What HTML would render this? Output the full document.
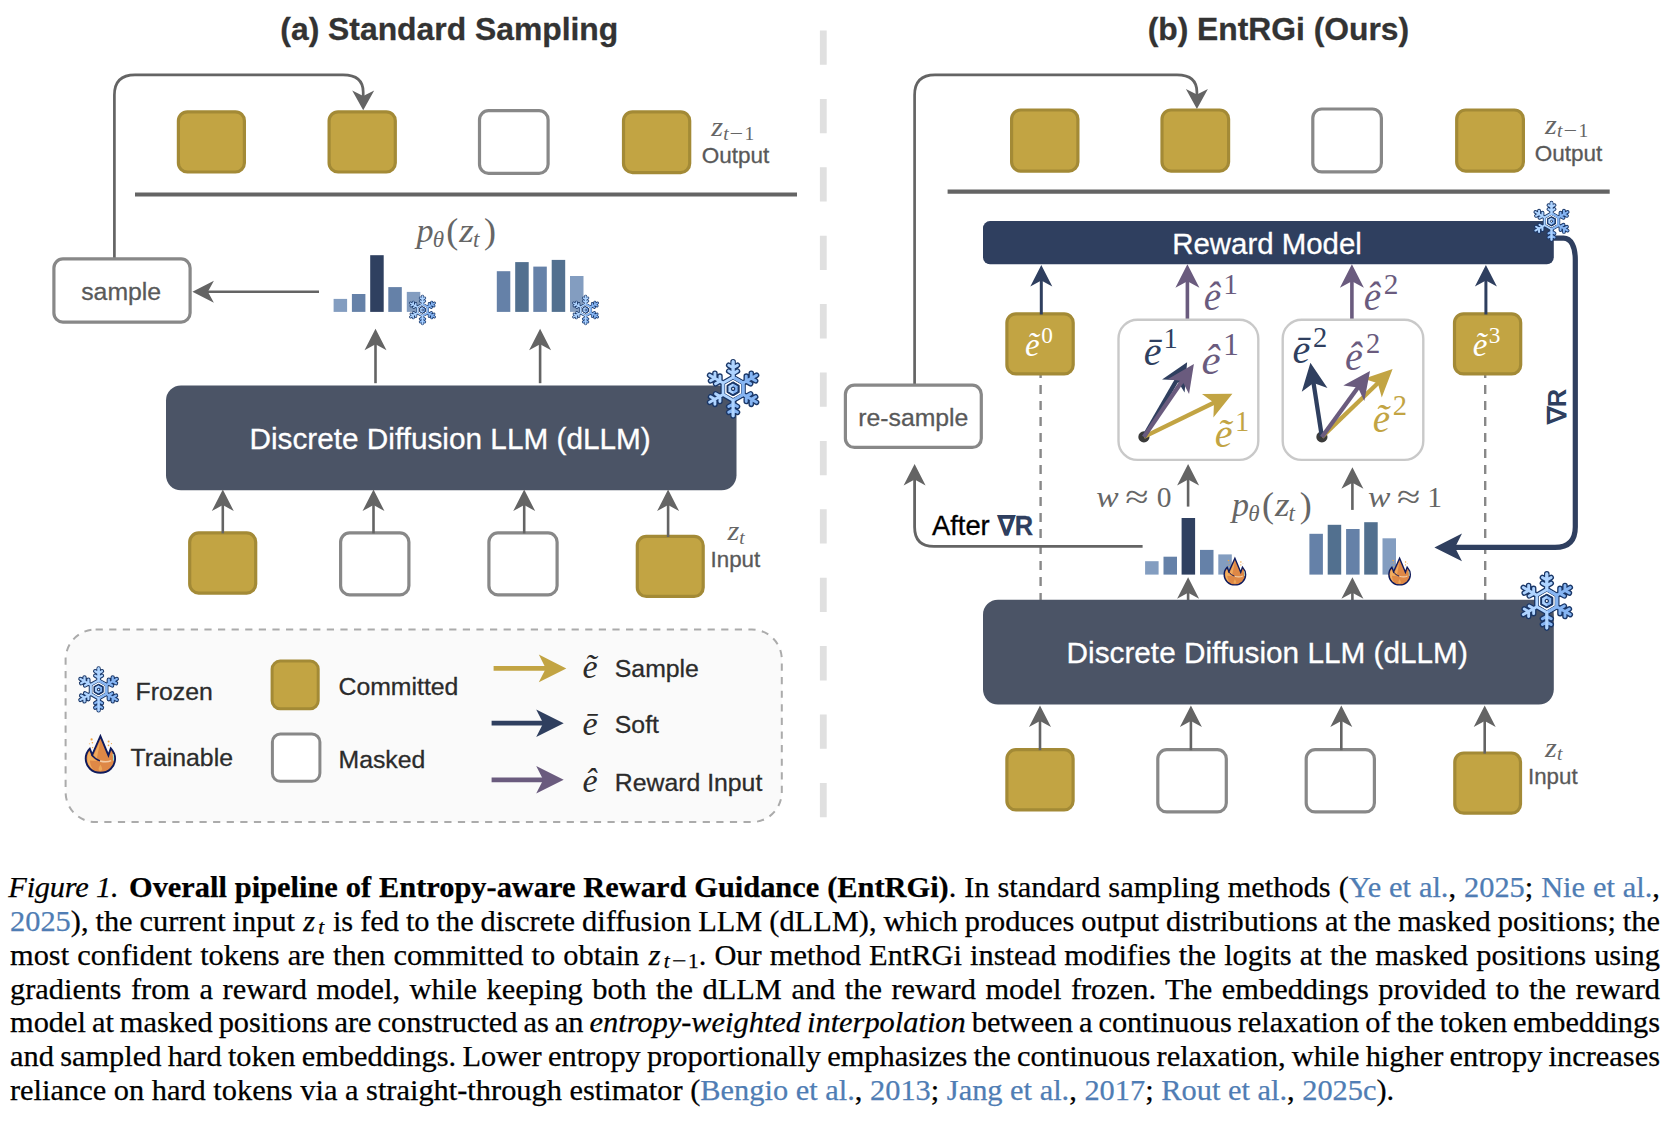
<!DOCTYPE html>
<html lang="en">
<head>
<meta charset="utf-8">
<title>Figure 1. Overall pipeline of Entropy-aware Reward Guidance (EntRGi)</title>
<style>
html,body{margin:0;padding:0;background:#ffffff;}
body{width:1670px;height:1122px;position:relative;overflow:hidden;}
svg{position:absolute;left:0;top:0;}
.cl{position:absolute;left:10px;white-space:nowrap;font-family:"Liberation Serif",serif;font-size:30.4px;line-height:30.4px;height:30.4px;color:#000;-webkit-text-stroke-width:0.25px;}
.cl .l{color:#4F7DB4;}
.cl .mz{font-style:italic;letter-spacing:3.2px;margin-left:1.2px;}
.cl .mt{font-style:italic;font-size:0.7em;position:relative;top:0.15em;letter-spacing:1.8px;}
.cl .mm{font-size:0.7em;position:relative;top:0.15em;display:inline-block;width:16.6px;text-align:center;transform:scaleX(1.2);}
.cl .mo{font-size:0.7em;position:relative;top:0.15em;}
</style>
</head>
<body>
<svg width="1670" height="850" viewBox="0 0 1670 850">
<defs><g id="snow" stroke-linecap="round" stroke-linejoin="round" fill="none"><path transform="rotate(0)" d="M0 -13 L0 -27.2 M0 -15.2 L-4.4 -17.8 M0 -15.2 L4.4 -17.8 M0 -21 L-4.4 -23.6 M0 -21 L4.4 -23.6" stroke="#1A3768" stroke-width="5.6"/><path transform="rotate(60)" d="M0 -13 L0 -27.2 M0 -15.2 L-4.4 -17.8 M0 -15.2 L4.4 -17.8 M0 -21 L-4.4 -23.6 M0 -21 L4.4 -23.6" stroke="#1A3768" stroke-width="5.6"/><path transform="rotate(120)" d="M0 -13 L0 -27.2 M0 -15.2 L-4.4 -17.8 M0 -15.2 L4.4 -17.8 M0 -21 L-4.4 -23.6 M0 -21 L4.4 -23.6" stroke="#1A3768" stroke-width="5.6"/><path transform="rotate(180)" d="M0 -13 L0 -27.2 M0 -15.2 L-4.4 -17.8 M0 -15.2 L4.4 -17.8 M0 -21 L-4.4 -23.6 M0 -21 L4.4 -23.6" stroke="#1A3768" stroke-width="5.6"/><path transform="rotate(240)" d="M0 -13 L0 -27.2 M0 -15.2 L-4.4 -17.8 M0 -15.2 L4.4 -17.8 M0 -21 L-4.4 -23.6 M0 -21 L4.4 -23.6" stroke="#1A3768" stroke-width="5.6"/><path transform="rotate(300)" d="M0 -13 L0 -27.2 M0 -15.2 L-4.4 -17.8 M0 -15.2 L4.4 -17.8 M0 -21 L-4.4 -23.6 M0 -21 L4.4 -23.6" stroke="#1A3768" stroke-width="5.6"/><path d="M0.00 -11.60 L10.05 -5.80 L10.05 5.80 L0.00 11.60 L-10.05 5.80 L-10.05 -5.80 Z" stroke="#1A3768" stroke-width="5.4"/><path d="M0.00 -9.20 L7.97 -4.60 L7.97 4.60 L0.00 9.20 L-7.97 4.60 L-7.97 -4.60 Z" fill="#ffffff" stroke="none"/><path transform="rotate(0)" d="M0 -13 L0 -27.2 M0 -15.2 L-4.4 -17.8 M0 -15.2 L4.4 -17.8 M0 -21 L-4.4 -23.6 M0 -21 L4.4 -23.6" stroke="#AFD4FF" stroke-width="2.9"/><path transform="rotate(60)" d="M0 -13 L0 -27.2 M0 -15.2 L-4.4 -17.8 M0 -15.2 L4.4 -17.8 M0 -21 L-4.4 -23.6 M0 -21 L4.4 -23.6" stroke="#86B5F3" stroke-width="2.9"/><path transform="rotate(120)" d="M0 -13 L0 -27.2 M0 -15.2 L-4.4 -17.8 M0 -15.2 L4.4 -17.8 M0 -21 L-4.4 -23.6 M0 -21 L4.4 -23.6" stroke="#86B5F3" stroke-width="2.9"/><path transform="rotate(180)" d="M0 -13 L0 -27.2 M0 -15.2 L-4.4 -17.8 M0 -15.2 L4.4 -17.8 M0 -21 L-4.4 -23.6 M0 -21 L4.4 -23.6" stroke="#86B5F3" stroke-width="2.9"/><path transform="rotate(240)" d="M0 -13 L0 -27.2 M0 -15.2 L-4.4 -17.8 M0 -15.2 L4.4 -17.8 M0 -21 L-4.4 -23.6 M0 -21 L4.4 -23.6" stroke="#AFD4FF" stroke-width="2.9"/><path transform="rotate(300)" d="M0 -13 L0 -27.2 M0 -15.2 L-4.4 -17.8 M0 -15.2 L4.4 -17.8 M0 -21 L-4.4 -23.6 M0 -21 L4.4 -23.6" stroke="#AFD4FF" stroke-width="2.9"/><path d="M0.00 -11.60 L10.05 -5.80 L10.05 5.80 L0.00 11.60 L-10.05 5.80 L-10.05 -5.80 Z" stroke="#AFD4FF" stroke-width="2.8"/><path d="M0 -11.6 L10.05 -5.8 L10.05 5.8 L0 11.6" stroke="#86B5F3" stroke-width="2.8"/><path d="M0 -11.6 L0 -27.2 M0 11.6 L0 27.2" stroke="#AFD4FF" stroke-width="2.9"/><path d="M0.00 -6.40 L5.54 -3.20 L5.54 3.20 L0.00 6.40 L-5.54 3.20 L-5.54 -3.20 Z" stroke="#1A3768" stroke-width="1.7" fill="#86B5F3"/><path d="M0 -6.4 L-5.54 -3.2 L-5.54 3.2 L0 6.4 Z" fill="#AFD4FF" stroke="none"/><path d="M0.00 -6.40 L5.54 -3.20 L5.54 3.20 L0.00 6.40 L-5.54 3.20 L-5.54 -3.20 Z" stroke="#1A3768" stroke-width="1.7" fill="none"/><circle cx="0" cy="0" r="1.6" fill="#ffffff" stroke="#1A3768" stroke-width="1.3"/></g><g id="fire" stroke-linejoin="miter"><path d="M0 -17.8 L8 1.4 L10.4 -5.6 C13.6 -2 14.7 2 14.7 4.6 C14.7 12.6 8.2 18.8 0 18.8 C-8.2 18.8 -14.7 12.6 -14.7 4.6 C-14.7 1 -13.4 -2.6 -10.6 -5.4 L-8.2 0.8 Z" fill="#DE8846" stroke="#0E1A5C" stroke-width="1.9"/><path d="M-13 5 C-13 1.5 -12.2 -1 -11 -2.6 L-9.2 2 C-7.4 4.4 -5 6 -2.4 7 L-10.4 6.4 C-10.4 10 -9.4 13 -7 15.4 C-11 13 -13 9.6 -13 5 Z" fill="#F1AE60"/><path d="M-7 2 L-0.2 -13 L-3.6 4.8 Z" fill="#F0A95D"/><path d="M-8.8 0.6 C-6.4 3.8 -3.4 5.8 -0.4 6.8" fill="none" stroke="#0E1A5C" stroke-width="1.3"/><path d="M-0.4 7 C4 8.2 8 8 10.8 6.6" fill="none" stroke="#F4CDA5" stroke-width="1.5"/><path d="M12.6 0 C13.2 2 13.4 4 13.2 6.6" fill="none" stroke="#9FE8E0" stroke-width="1"/><path d="M0 10.6 C1.2 13 1.8 14 1.8 15 C1.8 16.2 1 17 0 17 C-1 17 -1.8 16.2 -1.8 15 C-1.8 14 -1.2 13 0 10.6 Z" fill="#EDA858"/><circle cx="-8.8" cy="-14.6" r="1.1" fill="#EFA544"/><circle cx="-8" cy="-11.2" r="0.8" fill="#EFA544"/><circle cx="-7.8" cy="-6.4" r="0.7" fill="#EFA544"/><circle cx="8.2" cy="-12.6" r="1.0" fill="#EFA544"/><circle cx="8.1" cy="-8.6" r="0.8" fill="#EFA544"/><circle cx="11" cy="-10.4" r="0.6" fill="#EFA544"/><circle cx="-11" cy="-10.2" r="0.5" fill="#EFA544"/></g></defs>
<line x1="823.3" y1="30.5" x2="823.3" y2="821" stroke="#E0E0E0" stroke-width="6.8" stroke-dasharray="34.3 34.1"/>
<text x="449.30" y="40.20" font-family='"Liberation Sans", sans-serif' font-size="31.85" font-weight="bold" font-style="normal" fill="#333333" stroke="#333333" stroke-width="0.3" text-anchor="middle" >(a) Standard Sampling</text>
<path d="M114.4 258 L114.4 95 Q114.4 74.8 135 74.8 L343 74.8 Q363.2 74.8 363.2 92 L363.2 97" fill="none" stroke="#646464" stroke-width="2.7"/>
<path transform="translate(363.20 110.30) rotate(90.00)" d="M0 0 L-19.8 -11 L-14.4 0 L-19.8 11 Z" fill="#646464"/>
<rect x="178.40" y="111.80" width="66.00" height="60.20" rx="9" ry="9" fill="#C2A443" stroke="#A38A36" stroke-width="3.2"/>
<rect x="329.10" y="111.80" width="66.20" height="60.20" rx="9" ry="9" fill="#C2A443" stroke="#A38A36" stroke-width="3.2"/>
<rect x="479.50" y="110.70" width="68.60" height="62.60" rx="9" ry="9" fill="#ffffff" stroke="#888888" stroke-width="3.2"/>
<rect x="623.50" y="111.80" width="66.20" height="60.80" rx="9" ry="9" fill="#C2A443" stroke="#A38A36" stroke-width="3.2"/>
<line x1="135" y1="194.5" x2="797" y2="194.5" stroke="#646464" stroke-width="4.2"/>
<rect x="53.9" y="258.9" width="136.2" height="63.2" rx="9" ry="9" fill="#fff" stroke="#888888" stroke-width="3.2"/>
<text x="121.20" y="300.00" font-family='"Liberation Sans", sans-serif' font-size="24.8" font-weight="normal" font-style="normal" fill="#595959" stroke="#595959" stroke-width="0.3" text-anchor="middle" >sample</text>
<line x1="319.00" y1="291.80" x2="206.90" y2="291.80" stroke="#646464" stroke-width="2.6"/>
<path transform="translate(192.40 291.80) rotate(180.00)" d="M0 0 L-21.5 -11 L-15.5 0 L-21.5 11 Z" fill="#646464"/>
<rect x="333.60" y="298.90" width="13.5" height="13.00" fill="#839DC0"/>
<rect x="351.90" y="294.00" width="13.5" height="17.90" fill="#6581A8"/>
<rect x="370.20" y="255.20" width="13.5" height="56.70" fill="#2F4060"/>
<rect x="388.30" y="287.10" width="13.5" height="24.80" fill="#6581A8"/>
<rect x="406.80" y="291.90" width="13.5" height="20.00" fill="#839DC0"/>
<use href="#snow" transform="translate(422.50 310.00) scale(0.5086)"/>
<rect x="496.80" y="271.20" width="13.5" height="40.70" fill="#6581A8"/>
<rect x="515.20" y="262.10" width="13.5" height="49.80" fill="#52708F"/>
<rect x="533.30" y="266.60" width="13.5" height="45.30" fill="#6581A8"/>
<rect x="551.70" y="259.90" width="13.5" height="52.00" fill="#52708F"/>
<rect x="570.00" y="276.00" width="13.5" height="35.90" fill="#839DC0"/>
<use href="#snow" transform="translate(585.60 310.00) scale(0.5086)"/>
<line x1="375.50" y1="383.20" x2="375.50" y2="343.30" stroke="#646464" stroke-width="2.6"/>
<path transform="translate(375.50 328.80) rotate(-90.00)" d="M0 0 L-21.5 -11 L-15.5 0 L-21.5 11 Z" fill="#646464"/>
<line x1="540.10" y1="383.20" x2="540.10" y2="343.30" stroke="#646464" stroke-width="2.6"/>
<path transform="translate(540.10 328.80) rotate(-90.00)" d="M0 0 L-21.5 -11 L-15.5 0 L-21.5 11 Z" fill="#646464"/>
<rect x="166" y="385.4" width="570.5" height="104.9" rx="15" ry="15" fill="#4B5466"/>
<text x="450.10" y="448.60" font-family='"Liberation Sans", sans-serif' font-size="29.75" font-weight="normal" font-style="normal" fill="#ffffff" stroke="#ffffff" stroke-width="0.3" text-anchor="middle" >Discrete Diffusion LLM (dLLM)</text>
<use href="#snow" transform="translate(733.10 388.80) scale(0.9966)"/>
<rect x="189.70" y="532.90" width="66.00" height="60.20" rx="9" ry="9" fill="#C2A443" stroke="#A38A36" stroke-width="3.2"/>
<rect x="340.60" y="532.90" width="68.30" height="61.90" rx="9" ry="9" fill="#ffffff" stroke="#888888" stroke-width="3.2"/>
<rect x="488.90" y="532.90" width="68.20" height="61.90" rx="9" ry="9" fill="#ffffff" stroke="#888888" stroke-width="3.2"/>
<rect x="637.30" y="536.40" width="65.90" height="60.00" rx="9" ry="9" fill="#C2A443" stroke="#A38A36" stroke-width="3.2"/>
<line x1="222.80" y1="533.40" x2="222.80" y2="504.10" stroke="#646464" stroke-width="2.6"/>
<path transform="translate(222.80 489.60) rotate(-90.00)" d="M0 0 L-21.5 -11 L-15.5 0 L-21.5 11 Z" fill="#646464"/>
<line x1="373.50" y1="533.40" x2="373.50" y2="504.10" stroke="#646464" stroke-width="2.6"/>
<path transform="translate(373.50 489.60) rotate(-90.00)" d="M0 0 L-21.5 -11 L-15.5 0 L-21.5 11 Z" fill="#646464"/>
<line x1="524.20" y1="533.40" x2="524.20" y2="504.10" stroke="#646464" stroke-width="2.6"/>
<path transform="translate(524.20 489.60) rotate(-90.00)" d="M0 0 L-21.5 -11 L-15.5 0 L-21.5 11 Z" fill="#646464"/>
<line x1="668.10" y1="537.00" x2="668.10" y2="504.10" stroke="#646464" stroke-width="2.6"/>
<path transform="translate(668.10 489.60) rotate(-90.00)" d="M0 0 L-21.5 -11 L-15.5 0 L-21.5 11 Z" fill="#646464"/>
<text x="735.40" y="567.00" font-family='"Liberation Sans", sans-serif' font-size="22.3" font-weight="normal" font-style="normal" fill="#595959" stroke="#595959" stroke-width="0.3" text-anchor="middle" >Input</text>
<rect x="65.6" y="629.5" width="716.2" height="192.6" rx="30" ry="30" fill="#FAFAFA" stroke="#ABABAB" stroke-width="2" stroke-dasharray="7.2 6.4"/>
<use href="#snow" transform="translate(98.60 689.40) scale(0.7724)"/>
<text x="135.60" y="699.80" font-family='"Liberation Sans", sans-serif' font-size="24.8" font-weight="normal" font-style="normal" fill="#2b2b2b" stroke="#2b2b2b" stroke-width="0.3" text-anchor="start" >Frozen</text>
<use href="#fire" transform="translate(100.40 754.00) scale(1.0000)"/>
<text x="130.50" y="766.00" font-family='"Liberation Sans", sans-serif' font-size="24.8" font-weight="normal" font-style="normal" fill="#2b2b2b" stroke="#2b2b2b" stroke-width="0.3" text-anchor="start" >Trainable</text>
<rect x="272.10" y="661.10" width="46.10" height="47.60" rx="8" ry="8" fill="#C2A443" stroke="#A38A36" stroke-width="3.0"/>
<text x="338.50" y="695.00" font-family='"Liberation Sans", sans-serif' font-size="24.8" font-weight="normal" font-style="normal" fill="#2b2b2b" stroke="#2b2b2b" stroke-width="0.3" text-anchor="start" >Committed</text>
<rect x="272.40" y="734.00" width="47.50" height="47.30" rx="8" ry="8" fill="#ffffff" stroke="#888888" stroke-width="3.0"/>
<text x="338.50" y="768.00" font-family='"Liberation Sans", sans-serif' font-size="24.8" font-weight="normal" font-style="normal" fill="#2b2b2b" stroke="#2b2b2b" stroke-width="0.3" text-anchor="start" >Masked</text>
<line x1="493.60" y1="668.40" x2="546.80" y2="668.40" stroke="#C2A443" stroke-width="4.8"/>
<path transform="translate(566.30 668.40) rotate(0.00)" d="M0 0 L-27.5 -13.8 L-20.5 0 L-27.5 13.8 Z" fill="#C2A443"/>
<line x1="491.60" y1="723.20" x2="544.20" y2="723.20" stroke="#2F3F5F" stroke-width="4.8"/>
<path transform="translate(563.70 723.20) rotate(0.00)" d="M0 0 L-27.5 -13.8 L-20.5 0 L-27.5 13.8 Z" fill="#2F3F5F"/>
<line x1="491.60" y1="779.80" x2="544.20" y2="779.80" stroke="#6A5B7E" stroke-width="4.8"/>
<path transform="translate(563.70 779.80) rotate(0.00)" d="M0 0 L-27.5 -13.8 L-20.5 0 L-27.5 13.8 Z" fill="#6A5B7E"/>
<text x="614.80" y="676.70" font-family='"Liberation Sans", sans-serif' font-size="24.8" font-weight="normal" font-style="normal" fill="#2b2b2b" stroke="#2b2b2b" stroke-width="0.3" text-anchor="start" >Sample</text>
<text x="614.80" y="733.30" font-family='"Liberation Sans", sans-serif' font-size="24.8" font-weight="normal" font-style="normal" fill="#2b2b2b" stroke="#2b2b2b" stroke-width="0.3" text-anchor="start" >Soft</text>
<text x="614.80" y="790.60" font-family='"Liberation Sans", sans-serif' font-size="24.8" font-weight="normal" font-style="normal" fill="#2b2b2b" stroke="#2b2b2b" stroke-width="0.3" text-anchor="start" >Reward Input</text>
<text x="1278.40" y="40.20" font-family='"Liberation Sans", sans-serif' font-size="31.8" font-weight="bold" font-style="normal" fill="#333333" stroke="#333333" stroke-width="0.3" text-anchor="middle" >(b) EntRGi (Ours)</text>
<path d="M914.6 384 L914.6 95 Q914.6 74.8 935 74.8 L1177 74.8 Q1196.9 74.8 1196.9 92 L1196.9 96" fill="none" stroke="#646464" stroke-width="2.7"/>
<path transform="translate(1196.90 108.90) rotate(90.00)" d="M0 0 L-19.8 -11 L-14.4 0 L-19.8 11 Z" fill="#646464"/>
<rect x="1011.60" y="110.00" width="66.30" height="61.10" rx="9" ry="9" fill="#C2A443" stroke="#A38A36" stroke-width="3.2"/>
<rect x="1162.00" y="110.00" width="66.60" height="61.10" rx="9" ry="9" fill="#C2A443" stroke="#A38A36" stroke-width="3.2"/>
<rect x="1312.80" y="109.00" width="68.60" height="62.90" rx="9" ry="9" fill="#ffffff" stroke="#888888" stroke-width="3.2"/>
<rect x="1456.70" y="110.00" width="66.70" height="61.10" rx="9" ry="9" fill="#C2A443" stroke="#A38A36" stroke-width="3.2"/>
<line x1="947.6" y1="191.6" x2="1609.7" y2="191.6" stroke="#646464" stroke-width="4.2"/>
<text x="1568.40" y="160.50" font-family='"Liberation Sans", sans-serif' font-size="22.5" font-weight="normal" font-style="normal" fill="#595959" stroke="#595959" stroke-width="0.3" text-anchor="middle" >Output</text>
<text x="735.60" y="162.60" font-family='"Liberation Sans", sans-serif' font-size="22.5" font-weight="normal" font-style="normal" fill="#595959" stroke="#595959" stroke-width="0.3" text-anchor="middle" >Output</text>
<line x1="1040.6" y1="375" x2="1040.6" y2="600" stroke="#888888" stroke-width="2.4" stroke-dasharray="9 7" stroke-dashoffset="6.1"/>
<line x1="1485.2" y1="375" x2="1485.2" y2="600" stroke="#888888" stroke-width="2.4" stroke-dasharray="9 7" stroke-dashoffset="6.1"/>
<path d="M1553 238.1 L1563.5 238.1 C1571 238.1 1575.3 246.5 1575.3 260 L1575.3 527 Q1575.3 547.4 1555 547.4 L1452 547.4" fill="none" stroke="#2F3F5F" stroke-width="5.2"/>
<path transform="translate(1434.40 547.40) rotate(180.00)" d="M0 0 L-27.6 -13.8 L-20.6 0 L-27.6 13.8 Z" fill="#2F3F5F"/>
<rect x="983" y="221.1" width="570.8" height="43.1" rx="7" ry="7" fill="#2F3F5F"/>
<text x="1267.05" y="254.20" font-family='"Liberation Sans", sans-serif' font-size="29.4" font-weight="normal" font-style="normal" fill="#ffffff" stroke="#ffffff" stroke-width="0.3" text-anchor="middle" >Reward Model</text>
<use href="#snow" transform="translate(1551.50 221.30) scale(0.6828)"/>
<text transform="translate(1566.2 424.2) rotate(-90)" font-family='"Liberation Sans", sans-serif' font-size="25.5" font-weight="bold" fill="#2F3F5F">∇R</text>
<rect x="1006.90" y="313.80" width="66.30" height="60.10" rx="9" ry="9" fill="#C2A443" stroke="#A38A36" stroke-width="3.2"/>
<rect x="1454.50" y="313.80" width="66.20" height="60.10" rx="9" ry="9" fill="#C2A443" stroke="#A38A36" stroke-width="3.2"/>
<line x1="1041.30" y1="314.50" x2="1041.30" y2="279.40" stroke="#2F3F5F" stroke-width="3.0"/>
<path transform="translate(1041.30 264.90) rotate(-90.00)" d="M0 0 L-21.5 -11 L-15.5 0 L-21.5 11 Z" fill="#2F3F5F"/>
<line x1="1485.90" y1="314.50" x2="1485.90" y2="279.40" stroke="#2F3F5F" stroke-width="3.0"/>
<path transform="translate(1485.90 264.90) rotate(-90.00)" d="M0 0 L-21.5 -11 L-15.5 0 L-21.5 11 Z" fill="#2F3F5F"/>
<line x1="1187.40" y1="319.00" x2="1187.40" y2="280.20" stroke="#6A5B7E" stroke-width="3.6"/>
<path transform="translate(1187.40 264.20) rotate(-90.00)" d="M0 0 L-23.5 -12 L-17 0 L-23.5 12 Z" fill="#6A5B7E"/>
<line x1="1351.90" y1="319.00" x2="1351.90" y2="280.20" stroke="#6A5B7E" stroke-width="3.6"/>
<path transform="translate(1351.90 264.20) rotate(-90.00)" d="M0 0 L-23.5 -12 L-17 0 L-23.5 12 Z" fill="#6A5B7E"/>
<rect x="1118.5" y="319.7" width="139.8" height="140.2" rx="19" ry="19" fill="#fff" stroke="#C9C9C9" stroke-width="2.4"/>
<rect x="1282.7" y="319.7" width="140.6" height="140.2" rx="19" ry="19" fill="#fff" stroke="#C9C9C9" stroke-width="2.4"/>
<circle cx="1143.9" cy="436.9" r="5.6" fill="#3A3A3A"/>
<line x1="1143.90" y1="436.90" x2="1214.88" y2="402.25" stroke="#C2A443" stroke-width="4.3"/>
<path transform="translate(1232.40 393.70) rotate(-26.02)" d="M0 0 L-27.5 -13 L-20.5 0 L-27.5 13 Z" fill="#C2A443"/>
<line x1="1143.90" y1="436.90" x2="1177.34" y2="379.08" stroke="#2F3F5F" stroke-width="4.3"/>
<path transform="translate(1187.10 362.20) rotate(-59.96)" d="M0 0 L-27.5 -13 L-20.5 0 L-27.5 13 Z" fill="#2F3F5F"/>
<line x1="1143.90" y1="436.90" x2="1182.87" y2="380.08" stroke="#6A5B7E" stroke-width="4.3"/>
<path transform="translate(1193.90 364.00) rotate(-55.55)" d="M0 0 L-27.5 -13 L-20.5 0 L-27.5 13 Z" fill="#6A5B7E"/>
<circle cx="1321.9" cy="436.9" r="5.6" fill="#3A3A3A"/>
<line x1="1321.90" y1="436.90" x2="1378.54" y2="382.51" stroke="#C2A443" stroke-width="4.3"/>
<path transform="translate(1392.60 369.00) rotate(-43.84)" d="M0 0 L-27.5 -13 L-20.5 0 L-27.5 13 Z" fill="#C2A443"/>
<line x1="1321.90" y1="436.90" x2="1313.39" y2="381.97" stroke="#2F3F5F" stroke-width="4.3"/>
<path transform="translate(1310.40 362.70) rotate(-98.81)" d="M0 0 L-27.5 -13 L-20.5 0 L-27.5 13 Z" fill="#2F3F5F"/>
<line x1="1321.90" y1="436.90" x2="1358.50" y2="386.75" stroke="#6A5B7E" stroke-width="4.3"/>
<path transform="translate(1370.00 371.00) rotate(-53.87)" d="M0 0 L-27.5 -13 L-20.5 0 L-27.5 13 Z" fill="#6A5B7E"/>
<rect x="845.4" y="385.2" width="135.9" height="62.2" rx="9" ry="9" fill="#fff" stroke="#888888" stroke-width="3.2"/>
<text x="913.30" y="425.60" font-family='"Liberation Sans", sans-serif' font-size="24.8" font-weight="normal" font-style="normal" fill="#595959" stroke="#595959" stroke-width="0.3" text-anchor="middle" >re-sample</text>
<path d="M1142.6 546.4 L934 546.4 Q914.6 546.4 914.6 527 L914.6 478" fill="none" stroke="#646464" stroke-width="2.8"/>
<path transform="translate(914.60 463.90) rotate(-90.00)" d="M0 0 L-21.5 -11 L-15.5 0 L-21.5 11 Z" fill="#646464"/>
<text x="931.90" y="534.80" font-family='"Liberation Sans", sans-serif' font-size="27.4" font-weight="normal" font-style="normal" fill="#000000" stroke="#000000" stroke-width="0.3" text-anchor="start" >After</text>
<text x="998.20" y="534.80" font-family='"Liberation Sans", sans-serif' font-size="27.4" font-weight="bold" font-style="normal" fill="#2F3F5F" stroke="#2F3F5F" stroke-width="0.3" text-anchor="start" textLength="35" lengthAdjust="spacingAndGlyphs">∇R</text>
<line x1="1188.10" y1="506.60" x2="1188.10" y2="478.40" stroke="#646464" stroke-width="2.6"/>
<path transform="translate(1188.10 463.90) rotate(-90.00)" d="M0 0 L-21.5 -11 L-15.5 0 L-21.5 11 Z" fill="#646464"/>
<line x1="1352.40" y1="509.90" x2="1352.40" y2="481.70" stroke="#646464" stroke-width="2.6"/>
<path transform="translate(1352.40 467.20) rotate(-90.00)" d="M0 0 L-21.5 -11 L-15.5 0 L-21.5 11 Z" fill="#646464"/>
<rect x="1145.10" y="561.20" width="13.5" height="13.40" fill="#839DC0"/>
<rect x="1163.50" y="556.70" width="13.5" height="17.90" fill="#6581A8"/>
<rect x="1181.60" y="518.00" width="13.5" height="56.60" fill="#2F4060"/>
<rect x="1200.00" y="549.90" width="13.5" height="24.70" fill="#6581A8"/>
<rect x="1218.30" y="554.40" width="13.5" height="20.20" fill="#839DC0"/>
<use href="#fire" transform="translate(1234.90 571.20) scale(0.7296)"/>
<rect x="1309.40" y="533.80" width="13.5" height="40.80" fill="#6581A8"/>
<rect x="1327.70" y="524.80" width="13.5" height="49.80" fill="#52708F"/>
<rect x="1346.10" y="529.00" width="13.5" height="45.60" fill="#6581A8"/>
<rect x="1364.20" y="522.20" width="13.5" height="52.40" fill="#52708F"/>
<rect x="1382.50" y="538.30" width="13.5" height="36.30" fill="#839DC0"/>
<use href="#fire" transform="translate(1399.60 571.20) scale(0.7296)"/>
<line x1="1188.10" y1="601.00" x2="1188.10" y2="591.80" stroke="#646464" stroke-width="2.6"/>
<path transform="translate(1188.10 577.30) rotate(-90.00)" d="M0 0 L-21.5 -11 L-15.5 0 L-21.5 11 Z" fill="#646464"/>
<line x1="1352.40" y1="601.00" x2="1352.40" y2="591.80" stroke="#646464" stroke-width="2.6"/>
<path transform="translate(1352.40 577.30) rotate(-90.00)" d="M0 0 L-21.5 -11 L-15.5 0 L-21.5 11 Z" fill="#646464"/>
<rect x="983" y="599.7" width="570.8" height="104.9" rx="15" ry="15" fill="#4B5466"/>
<text x="1267.20" y="662.60" font-family='"Liberation Sans", sans-serif' font-size="29.75" font-weight="normal" font-style="normal" fill="#ffffff" stroke="#ffffff" stroke-width="0.3" text-anchor="middle" >Discrete Diffusion LLM (dLLM)</text>
<use href="#snow" transform="translate(1546.80 601.00) scale(0.9966)"/>
<rect x="1006.90" y="749.70" width="66.20" height="60.20" rx="9" ry="9" fill="#C2A443" stroke="#A38A36" stroke-width="3.2"/>
<rect x="1157.80" y="749.70" width="68.50" height="62.20" rx="9" ry="9" fill="#ffffff" stroke="#888888" stroke-width="3.2"/>
<rect x="1306.20" y="749.70" width="68.20" height="62.20" rx="9" ry="9" fill="#ffffff" stroke="#888888" stroke-width="3.2"/>
<rect x="1454.80" y="753.00" width="65.70" height="60.20" rx="9" ry="9" fill="#C2A443" stroke="#A38A36" stroke-width="3.2"/>
<line x1="1040.00" y1="750.20" x2="1040.00" y2="719.90" stroke="#646464" stroke-width="2.6"/>
<path transform="translate(1040.00 705.40) rotate(-90.00)" d="M0 0 L-21.5 -11 L-15.5 0 L-21.5 11 Z" fill="#646464"/>
<line x1="1190.90" y1="750.20" x2="1190.90" y2="719.90" stroke="#646464" stroke-width="2.6"/>
<path transform="translate(1190.90 705.40) rotate(-90.00)" d="M0 0 L-21.5 -11 L-15.5 0 L-21.5 11 Z" fill="#646464"/>
<line x1="1341.30" y1="750.20" x2="1341.30" y2="719.90" stroke="#646464" stroke-width="2.6"/>
<path transform="translate(1341.30 705.40) rotate(-90.00)" d="M0 0 L-21.5 -11 L-15.5 0 L-21.5 11 Z" fill="#646464"/>
<line x1="1484.70" y1="753.60" x2="1484.70" y2="719.90" stroke="#646464" stroke-width="2.6"/>
<path transform="translate(1484.70 705.40) rotate(-90.00)" d="M0 0 L-21.5 -11 L-15.5 0 L-21.5 11 Z" fill="#646464"/>
<text x="1552.80" y="783.90" font-family='"Liberation Sans", sans-serif' font-size="22.3" font-weight="normal" font-style="normal" fill="#595959" stroke="#595959" stroke-width="0.3" text-anchor="middle" >Input</text>
<text transform="translate(711.20 135.90) scale(1.1 1)" x="0" y="0" font-family='"Liberation Serif", serif' font-size="27.5" font-style="italic" fill="#666666">z</text>
<text x="723.14" y="139.70" font-family='"Liberation Serif", serif' font-size="19.5" font-style="italic" fill="#666666" >t</text>
<text x="729.58" y="139.70" font-family='"Liberation Serif", serif' font-size="19.5" font-style="normal" fill="#666666" textLength="13.6" lengthAdjust="spacingAndGlyphs">−</text>
<text x="744.48" y="139.70" font-family='"Liberation Serif", serif' font-size="19.5" font-style="normal" fill="#666666" >1</text>
<text x="416.41" y="242.00" font-family='"Liberation Serif", serif' font-size="34" font-style="italic" fill="#666666" >p</text>
<text x="432.67" y="247.00" font-family='"Liberation Serif", serif' font-size="23" font-style="italic" fill="#666666" >θ</text>
<text x="446.37" y="242.50" font-family='"Liberation Serif", serif' font-size="36" font-style="normal" fill="#666666" >(</text>
<text transform="translate(459.30 242.00) scale(1.1 1)" x="0" y="0" font-family='"Liberation Serif", serif' font-size="34" font-style="italic" fill="#666666">z</text>
<text x="472.99" y="247.00" font-family='"Liberation Serif", serif' font-size="23" font-style="italic" fill="#666666" >t</text>
<text x="484.06" y="242.50" font-family='"Liberation Serif", serif' font-size="36" font-style="normal" fill="#666666" >)</text>
<text transform="translate(727.40 540.00) scale(1.1 1)" x="0" y="0" font-family='"Liberation Serif", serif' font-size="27.5" font-style="italic" fill="#666666">z</text>
<text x="739.34" y="543.80" font-family='"Liberation Serif", serif' font-size="19.5" font-style="italic" fill="#666666" >t</text>
<text x="582.45" y="677.80" font-family='"Liberation Serif", serif' font-size="34" font-style="italic" fill="#2b2b2b" >ẽ</text>
<text x="582.45" y="734.80" font-family='"Liberation Serif", serif' font-size="34" font-style="italic" fill="#2b2b2b" >ē</text>
<text x="582.45" y="791.80" font-family='"Liberation Serif", serif' font-size="34" font-style="italic" fill="#2b2b2b" >ê</text>
<text transform="translate(1545.10 133.50) scale(1.1 1)" x="0" y="0" font-family='"Liberation Serif", serif' font-size="27.5" font-style="italic" fill="#666666">z</text>
<text x="1557.04" y="137.30" font-family='"Liberation Serif", serif' font-size="19.5" font-style="italic" fill="#666666" >t</text>
<text x="1563.48" y="137.30" font-family='"Liberation Serif", serif' font-size="19.5" font-style="normal" fill="#666666" textLength="13.6" lengthAdjust="spacingAndGlyphs">−</text>
<text x="1578.38" y="137.30" font-family='"Liberation Serif", serif' font-size="19.5" font-style="normal" fill="#666666" >1</text>
<text transform="translate(1545.10 756.50) scale(1.1 1)" x="0" y="0" font-family='"Liberation Serif", serif' font-size="27.5" font-style="italic" fill="#666666">z</text>
<text x="1557.04" y="760.30" font-family='"Liberation Serif", serif' font-size="19.5" font-style="italic" fill="#666666" >t</text>
<text x="1232.01" y="516.00" font-family='"Liberation Serif", serif' font-size="34" font-style="italic" fill="#666666" >p</text>
<text x="1248.27" y="521.00" font-family='"Liberation Serif", serif' font-size="23" font-style="italic" fill="#666666" >θ</text>
<text x="1261.97" y="516.50" font-family='"Liberation Serif", serif' font-size="36" font-style="normal" fill="#666666" >(</text>
<text transform="translate(1274.90 516.00) scale(1.1 1)" x="0" y="0" font-family='"Liberation Serif", serif' font-size="34" font-style="italic" fill="#666666">z</text>
<text x="1288.59" y="521.00" font-family='"Liberation Serif", serif' font-size="23" font-style="italic" fill="#666666" >t</text>
<text x="1299.66" y="516.50" font-family='"Liberation Serif", serif' font-size="36" font-style="normal" fill="#666666" >)</text>
<text transform="translate(1096.30 506.60) scale(1.12 1)" x="0" y="0" font-family='"Liberation Serif", serif' font-size="30" font-style="italic" fill="#666666">w</text>
<text transform="translate(1126.50 507.80) scale(1.15 0.9)" x="-1" y="0" font-family='"Liberation Serif", serif' font-size="37" fill="#666666">≈</text>
<text x="1156.68" y="506.60" font-family='"Liberation Serif", serif' font-size="29.5" font-style="normal" fill="#666666" >0</text>
<text transform="translate(1367.90 506.60) scale(1.12 1)" x="0" y="0" font-family='"Liberation Serif", serif' font-size="30" font-style="italic" fill="#666666">w</text>
<text transform="translate(1398.10 507.80) scale(1.15 0.9)" x="-1" y="0" font-family='"Liberation Serif", serif' font-size="37" fill="#666666">≈</text>
<text x="1427.30" y="506.60" font-family='"Liberation Serif", serif' font-size="29.5" font-style="normal" fill="#666666" >1</text>
<text x="1203.69" y="310.30" font-family='"Liberation Serif", serif' font-size="39" font-style="italic" fill="#6A5B7E" >ê</text>
<text x="1223.22" y="293.90" font-family='"Liberation Serif", serif' font-size="29.3" font-style="normal" fill="#6A5B7E" >1</text>
<text x="1363.69" y="310.30" font-family='"Liberation Serif", serif' font-size="39" font-style="italic" fill="#6A5B7E" >ê</text>
<text x="1383.72" y="293.90" font-family='"Liberation Serif", serif' font-size="29.3" font-style="normal" fill="#6A5B7E" >2</text>
<text x="1024.98" y="356.00" font-family='"Liberation Serif", serif' font-size="33" font-style="italic" fill="#ffffff" >ẽ</text>
<text x="1041.21" y="342.80" font-family='"Liberation Serif", serif' font-size="23.3" font-style="normal" fill="#ffffff" >0</text>
<text x="1472.78" y="356.00" font-family='"Liberation Serif", serif' font-size="33" font-style="italic" fill="#ffffff" >ẽ</text>
<text x="1488.77" y="342.80" font-family='"Liberation Serif", serif' font-size="23.3" font-style="normal" fill="#ffffff" >3</text>
<text x="1143.86" y="365.30" font-family='"Liberation Serif", serif' font-size="40" font-style="italic" fill="#2F3F5F" >ē</text>
<text x="1163.39" y="348.40" font-family='"Liberation Serif", serif' font-size="28.5" font-style="normal" fill="#2F3F5F" >1</text>
<text x="1201.57" y="374.30" font-family='"Liberation Serif", serif' font-size="43" font-style="italic" fill="#6A5B7E" >ê</text>
<text x="1223.08" y="355.20" font-family='"Liberation Serif", serif' font-size="32" font-style="normal" fill="#6A5B7E" >1</text>
<text x="1214.76" y="447.40" font-family='"Liberation Serif", serif' font-size="40" font-style="italic" fill="#C2A443" >ẽ</text>
<text x="1234.89" y="431.20" font-family='"Liberation Serif", serif' font-size="28.5" font-style="normal" fill="#C2A443" >1</text>
<text x="1292.46" y="363.40" font-family='"Liberation Serif", serif' font-size="40" font-style="italic" fill="#2F3F5F" >ē</text>
<text x="1312.94" y="346.50" font-family='"Liberation Serif", serif' font-size="28.5" font-style="normal" fill="#2F3F5F" >2</text>
<text x="1345.06" y="370.00" font-family='"Liberation Serif", serif' font-size="40" font-style="italic" fill="#6A5B7E" >ê</text>
<text x="1365.94" y="352.80" font-family='"Liberation Serif", serif' font-size="28.5" font-style="normal" fill="#6A5B7E" >2</text>
<text x="1372.69" y="431.50" font-family='"Liberation Serif", serif' font-size="39" font-style="italic" fill="#C2A443" >ẽ</text>
<text x="1392.64" y="415.20" font-family='"Liberation Serif", serif' font-size="28.5" font-style="normal" fill="#C2A443" >2</text>
</svg>
<div class="cl" id="c0" style="top:872.24px;word-spacing:0.331px"><i style="margin-left:-1.7px;letter-spacing:-0.25px">Figure 1.</i><span style="display:inline-block;width:2.7px"></span> <b>Overall pipeline of Entropy-aware Reward Guidance (EntRGi)</b>. In standard sampling methods (<span class="l">Ye et al.</span>, <span class="l">2025</span>; <span class="l">Nie et al.</span>,</div>
<div class="cl" id="c1" style="top:906.04px;word-spacing:-0.636px"><span class="l">2025</span>), the current input <span class="mz">z</span><span class="mt">t</span> is fed to the discrete diffusion LLM (dLLM), which produces output distributions at the masked positions; the</div>
<div class="cl" id="c2" style="top:939.84px;word-spacing:0.557px">most confident tokens are then committed to obtain <span class="mz">z</span><span class="mt">t</span><span class="mm">−</span><span class="mo">1</span>. Our method EntRGi instead modifies the logits at the masked positions using</div>
<div class="cl" id="c3" style="top:973.64px;word-spacing:1.934px">gradients from a reward model, while keeping both the dLLM and the reward model frozen. The embeddings provided to the reward</div>
<div class="cl" id="c4" style="top:1007.44px;word-spacing:-1.621px">model at masked positions are constructed as an <i>entropy-weighted interpolation</i> between a continuous relaxation of the token embeddings</div>
<div class="cl" id="c5" style="top:1041.24px;word-spacing:-1.345px">and sampled hard token embeddings. Lower entropy proportionally emphasizes the continuous relaxation, while higher entropy increases</div>
<div class="cl" id="c6" style="top:1075.04px;word-spacing:0.000px">reliance on hard tokens via a straight-through estimator (<span class="l">Bengio et al.</span>, <span class="l">2013</span>; <span class="l">Jang et al.</span>, <span class="l">2017</span>; <span class="l">Rout et al.</span>, <span class="l">2025c</span>).</div>
</body>
</html>
